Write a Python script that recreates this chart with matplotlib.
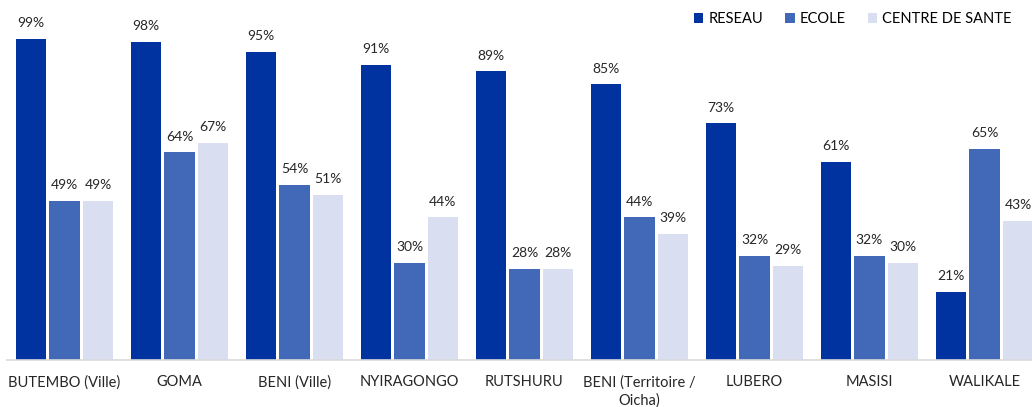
import numpy as np
import matplotlib.pyplot as plt

plt.rcParams['font.family'] = ['Lato', 'DejaVu Sans']

categories = ['BUTEMBO (Ville)', 'GOMA', 'BENI (Ville)', 'NYIRAGONGO', 'RUTSHURU',
              'BENI (Territoire /\nOicha)', 'LUBERO', 'MASISI', 'WALIKALE']
reseau = [99, 98, 95, 91, 89, 85, 73, 61, 21]
ecole = [49, 64, 54, 30, 28, 44, 32, 32, 65]
centre = [49, 67, 51, 44, 28, 39, 29, 30, 43]
series_names = ['RESEAU', 'ECOLE', 'CENTRE DE SANTE']
colors = ['#0033A0', '#4169B8', '#D9DFF1']

W, H = 1032, 407
fig = plt.figure(figsize=(W / 100, H / 100), dpi=100)
# axes placed in pixel terms: baseline at y=360, category pitch ~115 px
ax = fig.add_axes([7 / W, (H - 360) / H, 1035 / W, 360 / H])

x = np.arange(len(categories))
width = 0.262
step = 0.291
for i, (vals, name, c) in enumerate(zip([reseau, ecole, centre], series_names, colors)):
    pos = x + (i - 1) * step
    bars = ax.bar(pos, vals, width, color=c, label=name)
    for xb, v in zip(pos, vals):
        ax.annotate(f'{v}%', (xb, v), xytext=(0, 7), textcoords='offset points',
                    ha='center', va='bottom', fontsize=10, color='#262626')

ax.set_xlim(-0.5, len(categories) - 0.5)
ax.set_ylim(0, 111)
ax.set_yticks([])
ax.set_xticks(x)
ax.set_xticklabels(categories, fontsize=10.5, color='#262626', linespacing=1.35)
ax.tick_params(axis='x', length=0, pad=11)
for s in ['top', 'right', 'left']:
    ax.spines[s].set_visible(False)
ax.spines['bottom'].set_color('#D9D9D9')
ax.spines['bottom'].set_linewidth(1.2)

ax.legend(loc='upper right', bbox_to_anchor=(1022 / W, 0.995), bbox_transform=fig.transFigure,
          ncol=3, frameon=False, fontsize=10.5, handlelength=0.65, handleheight=0.65,
          handletextpad=0.35, columnspacing=1.5, borderaxespad=0.3)

fig.savefig('out.png', dpi=100)
